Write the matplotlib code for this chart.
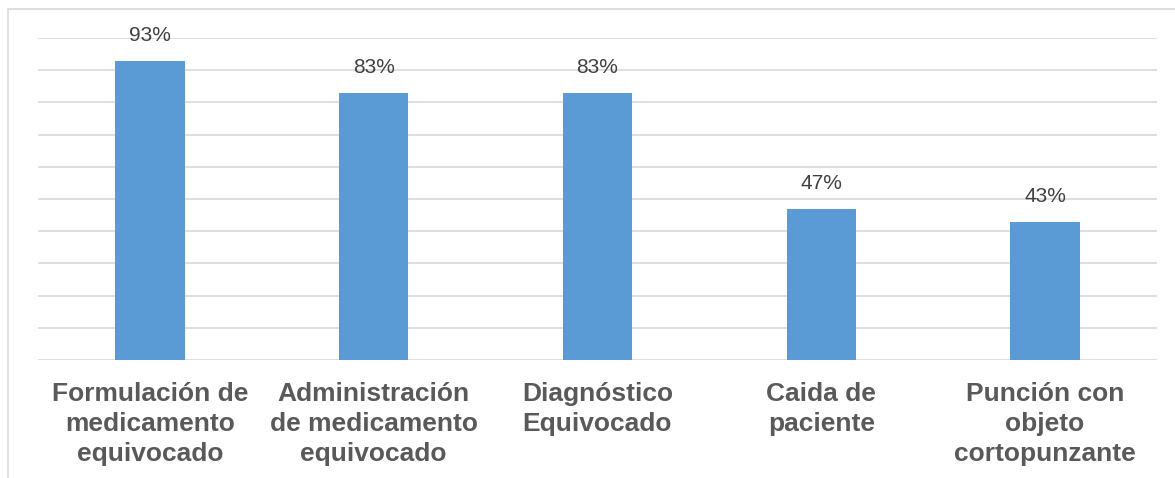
import matplotlib
matplotlib.use("Agg")
import matplotlib.pyplot as plt
from matplotlib.patches import Rectangle

# datos del grafico
categorias = ["Formulación de\nmedicamento\nequivocado",
              "Administración\nde medicamento\nequivocado",
              "Diagnóstico\nEquivocado",
              "Caida de\npaciente",
              "Punción con\nobjeto\ncortopunzante"]
porcentajes = [93, 83, 83, 47, 43]

W, H = 1175, 478
fig = plt.figure(figsize=(W/100, H/100), dpi=100)
fig.patch.set_facecolor("white")

# marco del grafico (se sale por la derecha y abajo)
fig.patches.append(Rectangle((8/W, -0.1), 1.2, 1 - 9/H + 0.1, transform=fig.transFigure,
                             fill=False, edgecolor="#d9d9d9", linewidth=1.2))

ax = fig.add_axes([38/W, 118/H, (1157-38)/W, 322/H])
x = range(len(categorias))
ax.bar(x, porcentajes, width=0.31, color="#5b9bd5", zorder=3)
ax.set_xlim(-0.5, len(categorias) - 0.5)
ax.set_ylim(0, 100)
ax.set_yticks(range(0, 101, 10))
ax.yaxis.grid(True, color="#d9d9d9", linewidth=1.2, zorder=0)
ax.tick_params(left=False, bottom=False, labelleft=False, labelbottom=False)
for s in ax.spines.values():
    s.set_visible(False)
ax.set_facecolor("none")

for i, v in enumerate(porcentajes):
    ax.annotate(str(v) + "%", (i, v), xytext=(0, 16), textcoords="offset pixels",
                ha="center", va="bottom", fontsize=15, color="#404040",
                family="Liberation Sans")

for i, c in enumerate(categorias):
    ax.annotate(c, (i, 0), xytext=(0, -22), textcoords="offset pixels",
                ha="center", va="top", multialignment="center", fontsize=19,
                fontweight="bold", color="#595959", family="Liberation Sans",
                linespacing=1.32)

fig.savefig("out.png", dpi=100)
